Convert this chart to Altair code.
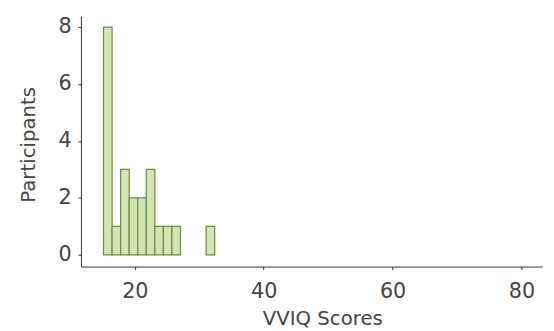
import altair as alt
import pandas as pd

# Histogram bins (VVIQ scores)
bin_left = [15.15, 16.48, 17.80, 19.13, 20.46, 21.78, 23.11, 24.44, 25.76, 31.07]
bin_right = [16.48, 17.80, 19.13, 20.46, 21.78, 23.11, 24.44, 25.76, 27.09, 32.40]
counts = [8, 1, 3, 2, 2, 3, 1, 1, 1, 1]

x_ticks = [20, 40, 60, 80]
y_ticks = [0, 2, 4, 6, 8]

df = pd.DataFrame({"x0": bin_left, "x1": bin_right, "count": counts})

FONT = "DejaVu Sans"
TXT = "#444444"

bars = alt.Chart(df).mark_rect(
    fill="#d5e4b3", stroke="#6b8b42", strokeWidth=1.2
).encode(
    x=alt.X("x0:Q",
            scale=alt.Scale(domain=[11.64, 83.2], nice=False, zero=False),
            axis=alt.Axis(values=x_ticks, title="VVIQ Scores", grid=False,
                          domainColor="#333333", tickColor="#333333", tickSize=3,
                          labelFont=FONT, labelFontSize=21, labelColor=TXT,
                          labelPadding=11, titleFont=FONT, titleFontSize=20,
                          titleFontWeight="normal", titleColor=TXT, titlePadding=8,
                          titleX=245)),
    x2="x1:Q",
    y=alt.Y("count:Q",
            scale=alt.Scale(domain=[-0.41, 8.38], nice=False, zero=False),
            axis=alt.Axis(values=y_ticks, title="Participants", grid=False,
                          domainColor="#333333", tickColor="#333333", tickSize=3,
                          labelFont=FONT, labelFontSize=21, labelColor=TXT,
                          labelPadding=7, titleFont=FONT, titleFontSize=20,
                          titleFontWeight="normal", titleColor=TXT, titlePadding=20,
                          titleY=130)),
    y2=alt.Y2(datum=0),
)

chart = bars.properties(
    width=468, height=254,
    autosize=alt.AutoSizeParams(type="none"),
    padding={"left": 74, "top": 6, "right": 4, "bottom": 62},
).configure_view(stroke=None)

chart.save("out.html", embed_options={"renderer": "svg", "actions": False})
